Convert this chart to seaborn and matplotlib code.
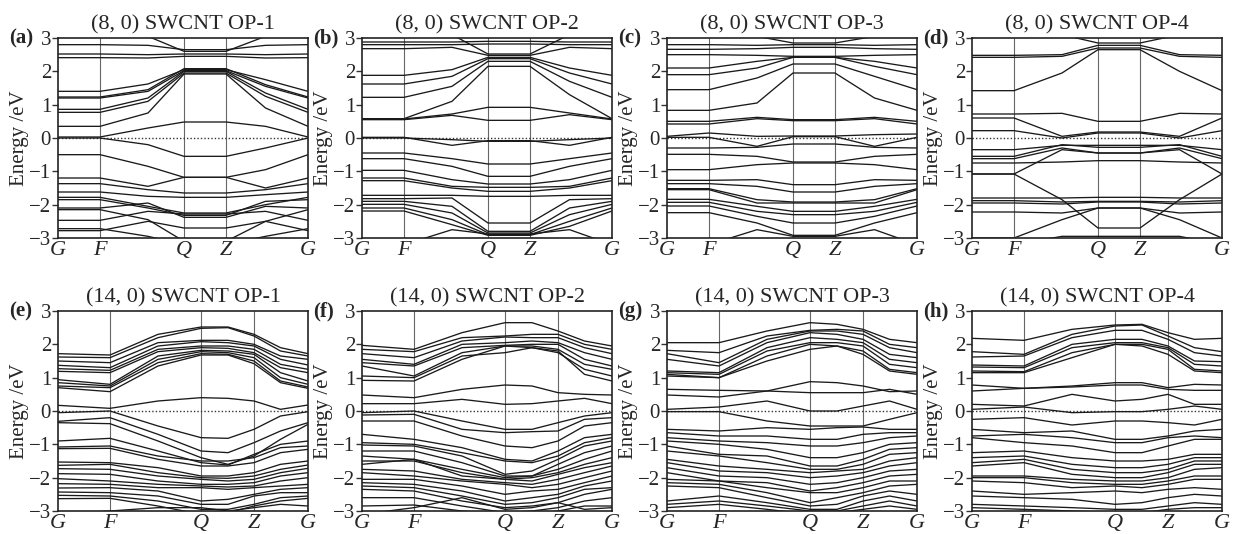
import numpy as np
import pandas as pd
import matplotlib
matplotlib.use("Agg")
import matplotlib.pyplot as plt
import seaborn as sns

# ---------------- data ----------------
k_labels = ["G", "F", "Q", "Z", "G"]
# k-node positions (fraction of path) for the two rows
k_top = [0.0, 0.168, 0.36, 0.504, 0.672, 0.83, 1.0]          # G F m Q Z m G
k_top_ticks = [0.0, 0.168, 0.504, 0.672, 1.0]
k_bot = [0.0, 0.208, 0.40, 0.572, 0.68, 0.784, 0.89, 1.0]    # G F m Q m Z m G
k_bot_ticks = [0.0, 0.208, 0.572, 0.784, 1.0]

titles = ["(8, 0) SWCNT OP-1", "(8, 0) SWCNT OP-2", "(8, 0) SWCNT OP-3", "(8, 0) SWCNT OP-4",
          "(14, 0) SWCNT OP-1", "(14, 0) SWCNT OP-2", "(14, 0) SWCNT OP-3", "(14, 0) SWCNT OP-4"]
letters = ["(a)", "(b)", "(c)", "(d)", "(e)", "(f)", "(g)", "(h)"]

bands_a = [
    [2.80, 2.80, 2.78, 2.65, 2.65, 2.78, 2.80],
    [3.30, 3.30, 3.05, 2.60, 2.60, 3.05, 3.30],
    [2.52, 2.52, 2.50, 2.52, 2.52, 2.50, 2.52],
    [2.41, 2.41, 2.40, 2.45, 2.45, 2.40, 2.41],
    [1.40, 1.40, 1.62, 2.05, 2.05, 1.75, 1.40],
    [1.23, 1.23, 1.45, 2.08, 2.08, 1.60, 1.23],
    [1.20, 1.20, 1.40, 2.02, 2.02, 1.55, 1.20],
    [0.86, 0.86, 1.20, 2.00, 2.00, 1.35, 0.86],
    [0.77, 0.77, 1.10, 1.95, 1.95, 1.25, 0.77],
    [0.35, 0.35, 0.75, 1.92, 1.92, 0.90, 0.35],
    [0.03, 0.03, 0.30, 0.48, 0.48, 0.35, 0.03],
    [0.00, 0.00, -0.20, -0.55, -0.55, -0.30, 0.00],
    [-0.50, -0.50, -0.85, -1.18, -1.18, -0.95, -0.50],
    [-1.20, -1.20, -1.45, -1.18, -1.18, -1.50, -1.20],
    [-1.37, -1.37, -1.55, -1.65, -1.65, -1.55, -1.37],
    [-1.62, -1.62, -1.75, -1.78, -1.78, -1.70, -1.62],
    [-1.78, -1.78, -2.05, -2.25, -2.25, -2.00, -1.78],
    [-1.85, -1.85, -2.10, -2.32, -2.32, -1.90, -1.85],
    [-2.10, -2.10, -1.95, -2.38, -2.38, -2.05, -2.10],
    [-2.15, -2.15, -2.45, -3.10, -3.10, -2.50, -2.15],
    [-2.47, -2.47, -2.20, -2.28, -2.28, -2.20, -2.47],
    [-2.72, -2.72, -2.95, -3.20, -3.20, -2.95, -2.72],
    [-2.78, -2.78, -2.50, -2.70, -2.70, -2.50, -2.78],
]

bands_b = [
    [2.88, 2.88, 2.88, 2.90, 2.90, 2.88, 2.88],
    [2.80, 2.80, 2.80, 2.82, 2.82, 2.80, 2.80],
    [3.30, 3.30, 3.10, 2.52, 2.52, 3.10, 3.30],
    [2.68, 2.68, 2.72, 2.48, 2.48, 2.72, 2.68],
    [1.88, 1.88, 2.05, 2.42, 2.42, 2.10, 1.88],
    [1.62, 1.62, 1.85, 2.38, 2.38, 1.95, 1.62],
    [1.22, 1.22, 1.55, 2.30, 2.30, 1.70, 1.22],
    [0.58, 0.58, 1.10, 2.15, 2.15, 1.30, 0.58],
    [0.57, 0.57, 0.72, 0.92, 0.92, 0.75, 0.57],
    [0.55, 0.55, 0.68, 0.53, 0.53, 0.70, 0.55],
    [0.02, 0.02, -0.22, -0.08, -0.08, -0.22, 0.02],
    [0.00, 0.00, -0.05, -0.10, -0.10, -0.05, 0.00],
    [-0.45, -0.45, -0.62, -0.78, -0.78, -0.62, -0.45],
    [-0.62, -0.62, -0.85, -1.15, -1.15, -0.85, -0.62],
    [-0.97, -0.97, -1.25, -1.38, -1.38, -1.25, -0.97],
    [-1.20, -1.20, -1.45, -1.48, -1.48, -1.45, -1.20],
    [-1.28, -1.28, -1.50, -1.60, -1.60, -1.50, -1.28],
    [-1.72, -1.72, -1.72, -1.75, -1.75, -1.72, -1.72],
    [-1.82, -1.82, -1.80, -2.55, -2.55, -1.85, -1.82],
    [-1.90, -1.90, -2.05, -2.80, -2.80, -2.10, -1.90],
    [-1.99, -1.99, -2.25, -2.85, -2.85, -2.30, -1.99],
    [-2.10, -2.10, -2.45, -2.90, -2.90, -2.50, -2.10],
    [-2.19, -2.19, -2.60, -2.92, -2.92, -2.65, -2.19],
    [-3.20, -3.20, -2.75, -2.88, -2.88, -2.75, -3.20],
]

bands_c = [
    [3.30, 3.30, 3.05, 2.85, 2.85, 3.05, 3.30],
    [2.80, 2.80, 2.78, 2.80, 2.80, 2.78, 2.80],
    [2.66, 2.66, 2.68, 2.72, 2.72, 2.68, 2.66],
    [2.50, 2.50, 2.48, 2.45, 2.45, 2.48, 2.50],
    [2.10, 2.10, 2.30, 2.42, 2.42, 2.30, 2.10],
    [1.90, 1.90, 2.10, 2.42, 2.42, 2.15, 1.90],
    [1.45, 1.45, 1.80, 2.22, 2.22, 1.85, 1.45],
    [0.83, 0.83, 1.05, 1.95, 1.95, 1.20, 0.83],
    [0.50, 0.50, 0.62, 0.55, 0.55, 0.62, 0.50],
    [0.42, 0.42, 0.58, 0.52, 0.52, 0.58, 0.42],
    [0.02, 0.02, -0.25, 0.04, 0.04, -0.25, 0.02],
    [0.05, 0.15, 0.05, 0.06, 0.06, 0.10, 0.12],
    [-0.30, -0.30, -0.28, -0.18, -0.18, -0.28, -0.30],
    [-0.49, -0.49, -0.55, -0.72, -0.72, -0.55, -0.49],
    [-0.95, -0.95, -0.80, -0.75, -0.75, -0.80, -0.95],
    [-1.27, -1.27, -1.25, -1.40, -1.40, -1.25, -1.27],
    [-1.37, -1.37, -1.45, -1.62, -1.62, -1.45, -1.37],
    [-1.52, -1.52, -1.85, -1.92, -1.92, -1.85, -1.52],
    [-1.55, -1.55, -1.95, -1.95, -1.95, -1.95, -1.55],
    [-1.84, -1.84, -2.05, -2.20, -2.20, -2.05, -1.84],
    [-1.93, -1.93, -2.20, -2.30, -2.30, -2.20, -1.93],
    [-2.04, -2.04, -2.35, -2.55, -2.55, -2.35, -2.04],
    [-2.24, -2.24, -2.55, -2.92, -2.92, -2.55, -2.24],
    [-3.20, -3.20, -2.75, -2.95, -2.95, -2.75, -3.20],
]

bands_d = [
    [3.30, 3.30, 3.10, 2.85, 2.85, 3.10, 3.30],
    [2.48, 2.48, 2.50, 2.78, 2.78, 2.50, 2.48],
    [2.42, 2.42, 2.45, 2.70, 2.70, 2.45, 2.42],
    [1.42, 1.42, 1.95, 2.65, 2.65, 2.00, 1.42],
    [0.72, 0.72, 0.74, 0.50, 0.50, 0.74, 0.72],
    [0.60, 0.60, 0.05, 0.18, 0.18, 0.05, 0.60],
    [0.22, 0.22, 0.00, 0.15, 0.15, 0.00, 0.22],
    [-0.35, -0.35, -0.22, -0.22, -0.22, -0.22, -0.35],
    [-0.55, -0.55, -0.20, -0.28, -0.28, -0.20, -0.55],
    [-0.62, -0.62, -0.30, -0.45, -0.45, -0.30, -0.62],
    [-1.08, -1.08, -0.35, -0.45, -0.45, -0.35, -1.08],
    [-0.75, -0.75, -0.72, -0.68, -0.68, -0.72, -0.75],
    [-1.08, -1.08, -1.85, -2.70, -2.70, -1.85, -1.08],
    [-1.80, -1.80, -1.80, -1.78, -1.78, -1.80, -1.80],
    [-1.88, -1.88, -1.92, -1.90, -1.90, -1.92, -1.88],
    [-1.95, -1.95, -1.98, -1.92, -1.92, -1.98, -1.95],
    [-2.22, -2.22, -2.25, -2.10, -2.10, -2.25, -2.22],
    [-3.00, -3.00, -2.45, -2.10, -2.10, -2.45, -3.00],
    [-3.20, -3.20, -2.95, -2.95, -2.95, -2.95, -3.20],
]

bands_e = [
    [1.72, 1.68, 2.30, 2.52, 2.52, 2.30, 1.90, 1.72],
    [1.62, 1.60, 2.20, 2.48, 2.50, 2.25, 1.80, 1.65],
    [1.50, 1.45, 2.05, 2.12, 2.12, 2.00, 1.65, 1.55],
    [1.37, 1.30, 1.95, 2.08, 2.05, 1.95, 1.55, 1.38],
    [1.27, 1.22, 1.85, 1.95, 1.95, 1.85, 1.40, 1.25],
    [1.19, 1.15, 1.78, 1.90, 1.88, 1.75, 1.30, 1.15],
    [0.94, 0.80, 1.65, 1.82, 1.80, 1.70, 1.15, 0.90],
    [0.85, 0.75, 1.55, 1.78, 1.75, 1.60, 1.00, 0.80],
    [0.75, 0.70, 1.45, 1.72, 1.70, 1.50, 0.90, 0.72],
    [0.70, 0.58, 1.35, 1.68, 1.68, 1.42, 0.85, 0.68],
    [0.17, 0.08, 0.30, 0.40, 0.38, 0.30, 0.05, 0.18],
    [-0.05, 0.00, -0.45, -0.80, -0.82, -0.55, -0.15, -0.02],
    [-0.31, -0.20, -0.70, -1.20, -1.25, -0.95, -0.60, -0.35],
    [-0.35, -0.38, -0.90, -1.40, -1.60, -1.35, -0.85, -0.40],
    [-0.90, -0.82, -1.20, -1.55, -1.62, -1.30, -1.00, -0.90],
    [-1.08, -1.05, -1.35, -1.50, -1.50, -1.40, -1.10, -1.05],
    [-1.13, -1.12, -1.45, -1.65, -1.65, -1.55, -1.25, -1.15],
    [-1.53, -1.55, -1.70, -1.95, -1.95, -1.85, -1.60, -1.50],
    [-1.63, -1.60, -1.85, -2.00, -2.02, -1.95, -1.75, -1.62],
    [-1.73, -1.75, -1.95, -2.05, -2.10, -2.05, -1.85, -1.72],
    [-1.88, -1.90, -2.10, -2.20, -2.20, -2.15, -1.95, -1.85],
    [-2.03, -2.10, -2.20, -2.25, -2.28, -2.25, -2.10, -2.00],
    [-2.18, -2.20, -2.30, -2.30, -2.35, -2.30, -2.25, -2.20],
    [-2.31, -2.30, -2.40, -2.70, -2.65, -2.50, -2.35, -2.30],
    [-2.43, -2.45, -2.55, -2.80, -2.80, -2.55, -2.45, -2.45],
    [-2.53, -2.55, -2.70, -2.95, -2.95, -2.80, -2.60, -2.55],
    [-2.63, -2.62, -2.85, -3.10, -3.05, -2.85, -2.70, -2.62],
    [-3.10, -3.00, -2.90, -2.90, -3.00, -2.90, -2.80, -2.85],
]

bands_f = [
    [1.97, 1.85, 2.35, 2.65, 2.65, 2.40, 2.10, 1.95],
    [1.85, 1.78, 2.20, 2.25, 2.30, 2.30, 2.00, 1.85],
    [1.72, 1.60, 2.10, 2.22, 2.20, 2.20, 1.90, 1.72],
    [1.55, 1.40, 2.00, 2.05, 2.10, 2.05, 1.75, 1.55],
    [1.45, 1.35, 1.90, 1.97, 2.00, 2.00, 1.55, 1.35],
    [1.35, 1.05, 1.75, 1.95, 1.95, 1.85, 1.40, 1.25],
    [1.05, 1.00, 1.65, 1.75, 1.90, 1.75, 1.25, 1.05],
    [0.92, 0.90, 1.55, 1.95, 1.90, 1.80, 1.10, 0.90],
    [0.48, 0.40, 0.65, 0.78, 0.75, 0.55, 0.50, 0.48],
    [0.22, 0.22, 0.35, 0.20, 0.22, 0.30, 0.38, 0.22],
    [-0.05, 0.00, -0.30, -0.55, -0.55, -0.35, -0.15, -0.05],
    [-0.12, -0.10, -0.55, -0.65, -0.62, -0.60, -0.25, -0.20],
    [-0.30, -0.30, -0.75, -1.05, -1.10, -0.90, -0.45, -0.35],
    [-0.70, -0.85, -1.10, -1.45, -1.50, -1.20, -0.80, -0.70],
    [-0.95, -1.00, -1.25, -1.50, -1.55, -1.35, -0.95, -0.80],
    [-1.02, -1.05, -1.35, -1.90, -1.80, -1.45, -1.05, -0.90],
    [-1.20, -1.20, -1.55, -1.95, -1.95, -1.60, -1.25, -1.05],
    [-1.35, -1.45, -1.75, -2.00, -1.95, -1.75, -1.45, -1.20],
    [-1.50, -1.50, -1.85, -2.05, -2.00, -1.85, -1.60, -1.40],
    [-1.60, -1.45, -1.95, -2.05, -2.10, -1.90, -1.70, -1.55],
    [-1.75, -1.80, -2.05, -2.15, -2.20, -2.05, -1.85, -1.65],
    [-1.85, -1.95, -2.10, -2.20, -2.30, -2.20, -2.00, -1.80],
    [-2.05, -2.05, -2.25, -2.50, -2.40, -2.35, -2.15, -1.95],
    [-2.15, -2.20, -2.40, -2.70, -2.60, -2.50, -2.25, -2.10],
    [-2.25, -2.30, -2.55, -2.80, -2.75, -2.60, -2.35, -2.30],
    [-2.35, -2.40, -2.70, -2.90, -2.85, -2.75, -2.50, -2.35],
    [-2.60, -2.60, -2.85, -3.05, -3.00, -2.90, -2.70, -2.60],
    [-2.85, -2.82, -3.00, -3.10, -3.10, -3.00, -2.85, -2.85],
    [-3.10, -2.90, -2.60, -2.95, -2.90, -2.75, -2.95, -2.90],
]

bands_g = [
    [2.05, 2.05, 2.40, 2.65, 2.60, 2.45, 2.15, 2.05],
    [1.82, 1.75, 2.25, 2.42, 2.45, 2.40, 2.00, 1.90],
    [1.72, 1.45, 2.15, 2.40, 2.40, 2.30, 1.90, 1.75],
    [1.55, 1.35, 2.05, 2.35, 2.30, 2.15, 1.70, 1.60],
    [1.20, 1.15, 1.90, 2.20, 2.15, 2.05, 1.55, 1.45],
    [1.15, 1.10, 1.80, 2.05, 2.05, 1.95, 1.40, 1.30],
    [1.10, 1.00, 1.65, 2.00, 1.95, 1.80, 1.25, 1.15],
    [1.05, 1.00, 1.50, 1.85, 1.95, 1.70, 1.20, 1.10],
    [0.65, 0.62, 0.60, 0.88, 0.85, 0.75, 0.58, 0.60],
    [0.48, 0.42, 0.60, 0.55, 0.55, 0.55, 0.65, 0.50],
    [0.05, 0.12, 0.30, 0.00, 0.00, 0.15, 0.30, 0.05],
    [-0.02, -0.02, -0.30, -0.45, -0.45, -0.45, -0.25, -0.05],
    [-0.55, -0.60, -0.50, -0.55, -0.50, -0.48, -0.55, -0.55],
    [-0.65, -0.75, -0.75, -0.85, -0.85, -0.70, -0.65, -0.65],
    [-0.80, -0.90, -0.95, -1.05, -1.05, -0.95, -0.80, -0.75],
    [-0.90, -1.00, -1.15, -1.40, -1.40, -1.25, -1.00, -0.95],
    [-1.05, -1.30, -1.35, -1.65, -1.65, -1.45, -1.15, -1.10],
    [-1.20, -1.35, -1.55, -1.75, -1.75, -1.60, -1.30, -1.25],
    [-1.45, -1.65, -1.75, -1.85, -1.80, -1.75, -1.50, -1.40],
    [-1.55, -1.80, -1.85, -2.00, -1.95, -1.85, -1.65, -1.55],
    [-1.70, -1.95, -2.00, -2.20, -2.15, -2.00, -1.80, -1.75],
    [-1.85, -2.10, -2.15, -2.40, -2.30, -2.15, -1.95, -1.90],
    [-2.05, -2.10, -2.30, -2.45, -2.45, -2.30, -2.10, -2.10],
    [-2.15, -2.20, -2.45, -2.75, -2.60, -2.45, -2.25, -2.20],
    [-2.25, -2.30, -2.60, -2.85, -2.80, -2.55, -2.40, -2.50],
    [-2.70, -2.55, -2.75, -2.95, -2.95, -2.70, -2.55, -2.70],
    [-2.80, -2.70, -2.85, -3.00, -3.00, -2.85, -2.70, -2.85],
    [-2.90, -2.80, -2.95, -3.10, -3.05, -2.95, -2.85, -2.95],
]

bands_h = [
    [2.18, 2.12, 2.45, 2.58, 2.60, 2.35, 2.15, 2.18],
    [1.78, 1.70, 2.30, 2.55, 2.58, 2.25, 1.90, 1.78],
    [1.62, 1.65, 2.20, 2.42, 2.42, 2.15, 1.75, 1.65],
    [1.38, 1.35, 2.00, 2.15, 2.15, 1.95, 1.50, 1.48],
    [1.32, 1.30, 1.90, 2.05, 2.05, 1.90, 1.40, 1.35],
    [1.20, 1.18, 1.75, 2.00, 2.00, 1.85, 1.25, 1.20],
    [1.15, 1.15, 1.60, 2.00, 1.95, 1.70, 1.20, 1.15],
    [0.78, 0.68, 0.75, 0.85, 0.85, 0.70, 0.80, 0.78],
    [0.60, 0.68, 0.72, 0.78, 0.78, 0.65, 0.62, 0.62],
    [0.20, 0.15, 0.50, 0.30, 0.35, 0.50, 0.20, 0.20],
    [0.05, 0.12, -0.05, -0.02, -0.02, 0.05, 0.15, 0.05],
    [-0.25, -0.20, -0.42, -0.30, -0.30, -0.35, -0.42, -0.25],
    [-0.55, -0.65, -0.60, -0.85, -0.85, -0.75, -0.60, -0.55],
    [-0.75, -0.70, -0.80, -0.95, -0.95, -0.80, -0.75, -0.80],
    [-0.80, -0.95, -1.05, -1.25, -1.25, -1.05, -0.85, -0.85],
    [-1.25, -1.20, -1.40, -1.50, -1.50, -1.45, -1.30, -1.30],
    [-1.40, -1.35, -1.60, -1.70, -1.70, -1.60, -1.40, -1.40],
    [-1.55, -1.45, -1.75, -1.85, -1.85, -1.75, -1.50, -1.50],
    [-1.65, -1.55, -1.90, -2.00, -2.00, -1.85, -1.60, -1.60],
    [-1.95, -1.95, -2.05, -2.10, -2.10, -2.00, -1.75, -1.70],
    [-2.00, -2.00, -2.15, -2.20, -2.20, -2.10, -1.95, -1.95],
    [-2.10, -2.15, -2.30, -2.25, -2.30, -2.20, -2.05, -2.05],
    [-2.40, -2.50, -2.45, -2.40, -2.45, -2.35, -2.30, -2.35],
    [-2.55, -2.60, -2.65, -2.80, -2.75, -2.60, -2.50, -2.55],
    [-2.80, -2.85, -2.90, -2.95, -2.95, -2.85, -2.75, -2.80],
    [-2.90, -2.95, -3.00, -3.05, -3.05, -2.95, -2.90, -2.90],
]

y_ticks = [-3, -2, -1, 0, 1, 2, 3]
y_ticklabels = ["\u22123", "\u22122", "\u22121", "0", "1", "2", "3"]

# ---------------- style ----------------
sns.set_theme(style="white")
plt.rcParams["font.family"] = ["Liberation Serif", "DejaVu Serif"]
plt.rcParams["axes.unicode_minus"] = True

W, H = 1234, 534
fig = plt.figure(figsize=(W / 100, H / 100), dpi=100)
fig.patch.set_facecolor("white")

lefts = [58, 362, 667, 972]
ax_w = 250
ax_h = 200
tops = [38, 311]

all_bands = [bands_a, bands_b, bands_c, bands_d, bands_e, bands_f, bands_g, bands_h]

for i, bands in enumerate(all_bands):
    row, col = divmod(i, 4)
    kx = k_top if row == 0 else k_bot
    kt = k_top_ticks if row == 0 else k_bot_ticks
    rect = [lefts[col] / W, (H - tops[row] - ax_h) / H, ax_w / W, ax_h / H]
    ax = fig.add_axes(rect)

    rows = []
    for b, vals in enumerate(bands):
        for x, e in zip(kx, vals):
            rows.append({"k": x, "E": e, "band": b})
    df = pd.DataFrame(rows)

    # high-symmetry verticals
    for xv in kt[1:-1]:
        ax.axvline(xv, color="#666666", lw=0.8, zorder=1)
    ax.axhline(0, color="#333333", lw=1.0, ls=(0, (1, 1.5)), zorder=1)

    sns.lineplot(data=df, x="k", y="E", units="band", estimator=None,
                 color="#1a1a1a", lw=0.95, ax=ax, sort=True, legend=False, zorder=2)

    ax.set_xlim(0, 1)
    ax.set_ylim(-3, 3)
    ax.set_xticks(kt)
    ax.set_xticklabels(k_labels, fontsize=16, fontstyle="italic")
    ax.set_yticks(y_ticks)
    ax.set_yticklabels(y_ticklabels, fontsize=15)
    ax.tick_params(axis="x", length=0, pad=2)
    ax.tick_params(axis="y", length=4, width=1, direction="out", pad=1, left=True, color="#333333")
    ax.set_xlabel("")
    ax.set_ylabel("Energy /eV", fontsize=15, labelpad=0)
    for sp in ax.spines.values():
        sp.set_color("#222222")
        sp.set_linewidth(1.2)
    ax.set_title(titles[i], fontsize=16, pad=6)
    ax.text(-0.195, 1.0, letters[i], transform=ax.transAxes, fontsize=15,
            fontweight="bold", ha="left", va="center")

fig.savefig("out.png", dpi=100, facecolor="white")
